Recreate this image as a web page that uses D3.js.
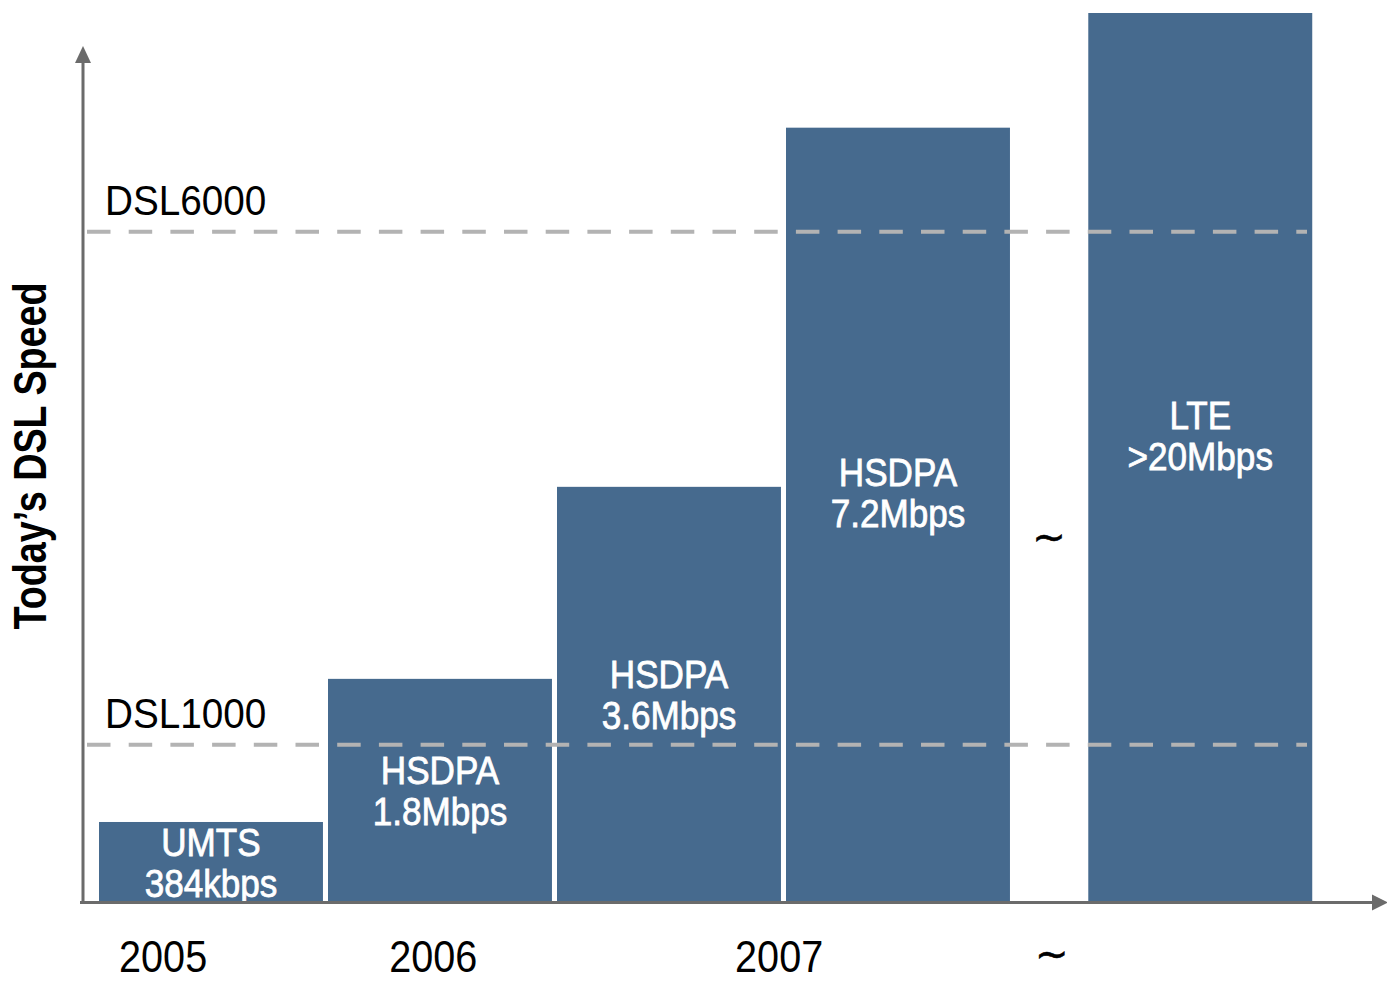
<!DOCTYPE html>
<html>
<head>
<meta charset="utf-8">
<script src="https://cdn.jsdelivr.net/npm/d3@7"></script>
<style>
  body { margin: 0; background: #fff; }
  text { font-family: "Liberation Sans", Arial, sans-serif; }
  text.tilde { font-family: "DejaVu Sans", sans-serif; }
</style>
</head>
<body>
<svg id="chart" width="1387" height="981"></svg>
<script>
// chart values (heights as % of the tallest bar)
var techs  = ["UMTS", "HSDPA", "HSDPA", "HSDPA", "LTE"];
var speeds = ["384kbps", "1.8Mbps", "3.6Mbps", "7.2Mbps", ">20Mbps"];
var levels = [9.0, 25.1, 46.7, 87.1, 100];
var slots  = [0, 1, 2, 3, 4.32];     // position on the time axis, gap before LTE

var refNames  = ["DSL6000", "DSL1000"];
var refLevels = [75.4, 17.7];

var yearLabels = ["2005", "2006", "2007", "~"];
var yearSlots  = [0.28, 1.46, 2.97, 4.16];

var barColor = "#466a8e";
var axisColor = "#6b6b6b";

var svg = d3.select("#chart");

var x = d3.scaleLinear().domain([0, 1]).range([99, 328]);
var y = d3.scaleLinear().domain([0, 100]).range([902, 13]);
var barW = (x(1) - x(0)) * 0.978;

var bars = techs.map(function(t, i){
  return {tech: t, speed: speeds[i], level: levels[i], slot: slots[i]};
});

// squeezed text helper (the source font is a bit condensed)
function label(g, px, py, txt, size, opts) {
  opts = opts || {};
  var t = g.append("g")
    .attr("transform", "translate(" + px + "," + py + ")" + (opts.rotate ? " rotate(" + opts.rotate + ")" : "") + " scale(" + (opts.sx || 0.9) + ",1)")
    .append("text")
    .attr("text-anchor", opts.anchor || "start")
    .attr("font-size", size)
    .attr("font-weight", opts.weight || "normal")
    .attr("fill", opts.fill || "#000")
    .text(txt);
  if (opts.cls) t.attr("class", opts.cls);
  if (opts.heavy) t.attr("stroke", opts.fill || "#000").attr("stroke-width", opts.heavy);
  return t;
}

// bars
svg.append("g").selectAll("rect")
  .data(bars)
  .enter()
  .append("rect")
  .attr("x", function(d){ return x(d.slot); })
  .attr("y", function(d){ return y(d.level); })
  .attr("width", barW)
  .attr("height", function(d){ return y(0) - y(d.level); })
  .attr("fill", barColor);

// reference lines
var refs = svg.append("g");
refLevels.forEach(function(v, i){
  refs.append("line")
    .attr("x1", 87).attr("x2", 1307)
    .attr("y1", y(v)).attr("y2", y(v))
    .attr("stroke", "#b3b3b3")
    .attr("stroke-width", 4)
    .attr("stroke-dasharray", "23.5,18.2");
  label(refs, 105, y(v) - 17, refNames[i], 43);
});

// bar labels
var lab = svg.append("g");
bars.forEach(function(d){
  var cx = x(d.slot) + barW / 2;
  var mid = (y(d.level) + y(0)) / 2;
  if (d.level > 60) mid -= 23;
  label(lab, cx, mid - 6, d.tech, 39, {anchor: "middle", fill: "#fff", heavy: 0.8});
  label(lab, cx, mid + 35, d.speed, 39, {anchor: "middle", fill: "#fff", heavy: 0.8});
});

// break mark between 2007 and LTE
label(lab, (x(3) + barW + x(4.32)) / 2, 551, "~", 40, {anchor: "middle", sx: 1, heavy: 0.6, cls: "tilde"});

// axes
var axes = svg.append("g");
axes.append("line")
  .attr("x1", 83).attr("x2", 83).attr("y1", 903).attr("y2", 60)
  .attr("stroke", axisColor).attr("stroke-width", 3);
axes.append("path")
  .attr("d", "M75,63 L83,46 L91,63 Z")
  .attr("fill", axisColor);
axes.append("line")
  .attr("x1", 80).attr("x2", 1375).attr("y1", 902.5).attr("y2", 902.5)
  .attr("stroke", axisColor).attr("stroke-width", 3);
axes.append("path")
  .attr("d", "M1372,894.5 L1388,902.5 L1372,910.5 Z")
  .attr("fill", axisColor);

// year ticks under the axis
yearLabels.forEach(function(t, i){
  if (t == "~") label(axes, x(yearSlots[i]), 968, t, 40, {anchor: "middle", sx: 1, heavy: 0.6, cls: "tilde"});
  else label(axes, x(yearSlots[i]), 972, t, 44, {anchor: "middle"});
});

// y title
label(svg, 46, 456, "Today\u2019s DSL Speed", 46, {anchor: "middle", rotate: -90, sx: 0.82, weight: "bold"});
</script>
</body>
</html>
